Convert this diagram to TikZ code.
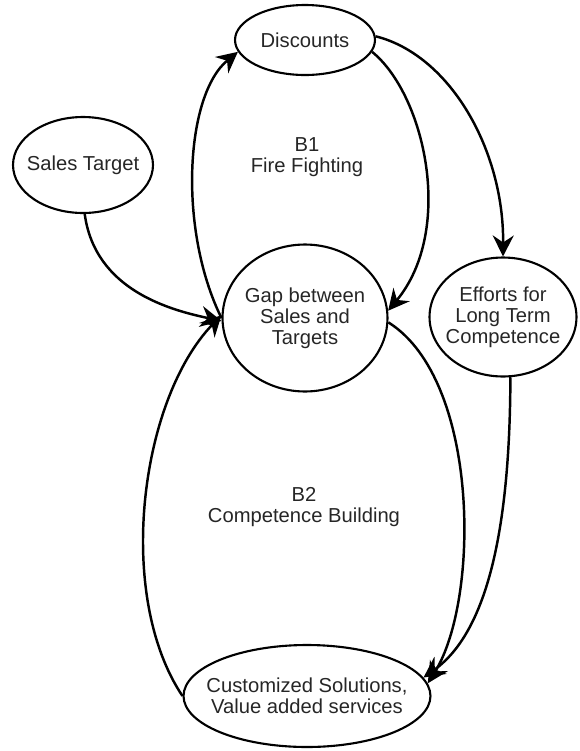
\documentclass[tikz,border=0pt]{standalone}
\usepackage{fontspec}
\setmainfont{Liberation Sans}
\usepackage{tikz}
\usetikzlibrary{shapes.geometric, arrows.meta}
\tikzset{
	var/.style    ={ellipse, draw=black, line width=1.2pt, align=center, inner xsep=-8pt, inner ysep=0pt, text=black!85},
	loopname/.style={align=center, text=black!85},
	link/.style   ={-{Stealth[length=4.2mm, width=4.2mm, inset=1.4mm]}, line width=1.4pt},
}
\begin{document}
\begin{tikzpicture}[x=0.02cm, y=-0.02cm, font=\fontsize{11.5}{12}\selectfont]
	\useasboundingbox (0,0) rectangle (580,751);
	\node[var, minimum width=2.8cm, minimum height=1.4cm] (disc) at (305,40) {Discounts};
	\node[var, minimum width=2.8cm, minimum height=1.92cm] (sales) at (83,165) {Sales Target};
	\node[var, minimum width=3.3cm, minimum height=2.94cm] (gap) at (305,318) {Gap between\\Sales and\\Targets};
	\node[var, minimum width=2.94cm, minimum height=2.38cm] (eff) at (503,317) {Efforts for\\Long Term\\Competence};
	\node[var, minimum width=4.94cm, minimum height=2.04cm] (cust) at (307,696) {Customized Solutions,\\Value added services};
	\node[loopname] (b1) at (307,157) {B1\\Fire Fighting};
	\node[loopname] (b2) at (304,507) {B2\\Competence Building};
	% B1 loop
	\draw[link] (gap.west) .. controls (178,230) and (185,95) .. (disc.190);
	\draw[link] (disc.350) .. controls (425,95) and (455,230) .. (gap.5);
	\draw[link] (disc.3) .. controls (450,55) and (504,150) .. (eff.north);
	\draw[link] (sales.272) .. controls (95,290) and (170,310) .. (gap.182);
	% B2 loop
	\draw[link] (cust.west) .. controls (115,595) and (140,400) .. (gap.178);
	\draw[link] (gap.357) .. controls (480,380) and (480,600) .. (cust.6);
	\draw[link] (eff.277) .. controls (510,520) and (490,630) .. (cust.9);
\end{tikzpicture}
\end{document}
